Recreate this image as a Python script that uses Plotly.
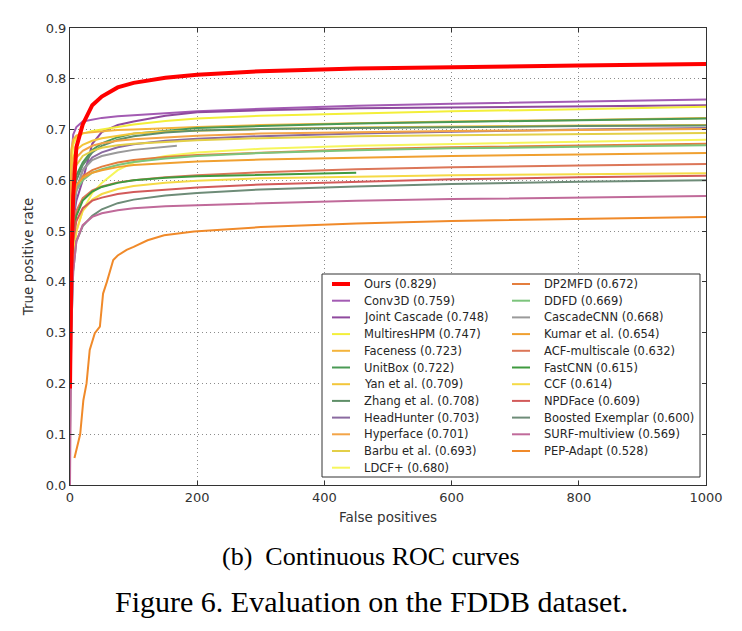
import plotly.graph_objects as go

# ---------------- data ----------------
FP = [0, 2, 5, 10, 20, 35, 50, 75, 100, 150, 200, 300, 450, 600, 800, 1000]

names = ["Ours", "Conv3D", "Joint Cascade", "MultiresHPM", "Faceness", "UnitBox",
         "Yan et al.", "Zhang et al.", "HeadHunter", "Hyperface", "Barbu et al.",
         "LDCF+", "DP2MFD", "DDFD", "CascadeCNN", "Kumar et al.", "ACF-multiscale",
         "FastCNN", "CCF", "NPDFace", "Boosted Exemplar", "SURF-multiview", "PEP-Adapt"]
scores = ["0.829", "0.759", "0.748", "0.747", "0.723", "0.722", "0.709", "0.708",
          "0.703", "0.701", "0.693", "0.680", "0.672", "0.669", "0.668", "0.654",
          "0.632", "0.615", "0.614", "0.609", "0.600", "0.569", "0.528"]
colors = ["#ff0000", "#a35bb3", "#8f4a9e", "#f3ef3a", "#f4b43c", "#4a9a55",
          "#f3c63a", "#5f8f68", "#8a6aa0", "#f3a447", "#e3cf48", "#f6f65c",
          "#e47e3e", "#7cc47c", "#9a9a9a", "#f0a030", "#dc7658", "#3f9a3f",
          "#f5da46", "#d25a5a", "#6e8c78", "#c06a9a", "#f08a2a"]

tpr_ours = [0.19, 0.42, 0.57, 0.665, 0.71, 0.748, 0.765, 0.783, 0.792, 0.802, 0.808, 0.815, 0.820, 0.823, 0.826, 0.829]
tpr_conv3d = [0.55, 0.64, 0.69, 0.705, 0.716, 0.720, 0.723, 0.726, 0.728, 0.731, 0.736, 0.741, 0.747, 0.751, 0.755, 0.759]
tpr_joint = [0.30, 0.45, 0.52, 0.56, 0.60, 0.672, 0.695, 0.709, 0.716, 0.727, 0.734, 0.738, 0.742, 0.744, 0.746, 0.748]
tpr_multires = [0.50, 0.62, 0.67, 0.685, 0.692, 0.697, 0.700, 0.705, 0.710, 0.717, 0.722, 0.727, 0.732, 0.736, 0.740, 0.745]
tpr_faceness = [0.60, 0.66, 0.68, 0.688, 0.693, 0.695, 0.697, 0.699, 0.700, 0.703, 0.705, 0.709, 0.713, 0.716, 0.719, 0.723]
tpr_unitbox = [0.35, 0.50, 0.57, 0.61, 0.635, 0.660, 0.673, 0.685, 0.692, 0.698, 0.703, 0.707, 0.712, 0.715, 0.718, 0.722]
tpr_yan = [0.55, 0.62, 0.645, 0.66, 0.670, 0.678, 0.683, 0.688, 0.692, 0.696, 0.698, 0.701, 0.704, 0.706, 0.708, 0.709]
tpr_zhang = [0.35, 0.50, 0.56, 0.60, 0.630, 0.655, 0.668, 0.680, 0.687, 0.694, 0.698, 0.701, 0.703, 0.705, 0.707, 0.708]
tpr_headhunter = [0.30, 0.45, 0.53, 0.58, 0.620, 0.645, 0.655, 0.665, 0.671, 0.678, 0.682, 0.687, 0.692, 0.696, 0.700, 0.703]
tpr_hyperface = [0.50, 0.60, 0.63, 0.645, 0.658, 0.668, 0.673, 0.678, 0.681, 0.685, 0.688, 0.692, 0.695, 0.697, 0.699, 0.701]
tpr_barbu = [0.40, 0.55, 0.60, 0.63, 0.648, 0.658, 0.664, 0.669, 0.672, 0.676, 0.679, 0.683, 0.687, 0.689, 0.691, 0.693]
tpr_ldcf = [0.20, 0.35, 0.45, 0.50, 0.540, 0.575, 0.595, 0.620, 0.635, 0.648, 0.655, 0.662, 0.668, 0.672, 0.676, 0.680]
tpr_dp2mfd = [0.40, 0.50, 0.56, 0.59, 0.608, 0.620, 0.627, 0.635, 0.640, 0.646, 0.650, 0.655, 0.661, 0.665, 0.669, 0.672]
tpr_ddfd = [0.40, 0.50, 0.55, 0.58, 0.600, 0.615, 0.622, 0.630, 0.636, 0.643, 0.648, 0.654, 0.659, 0.663, 0.666, 0.669]
tpr_kumar = [0.40, 0.50, 0.56, 0.59, 0.605, 0.615, 0.620, 0.626, 0.630, 0.634, 0.637, 0.641, 0.645, 0.648, 0.651, 0.654]
tpr_acf = [0.30, 0.42, 0.50, 0.54, 0.565, 0.580, 0.588, 0.596, 0.600, 0.606, 0.610, 0.616, 0.622, 0.626, 0.629, 0.632]
tpr_fastcnn = [0.25, 0.40, 0.48, 0.53, 0.560, 0.578, 0.587, 0.595, 0.600, 0.605, 0.608, 0.611, 0.615, None, None, None]
tpr_ccf = [0.20, 0.35, 0.44, 0.50, 0.540, 0.562, 0.573, 0.583, 0.589, 0.595, 0.599, 0.604, 0.607, 0.610, 0.612, 0.614]
tpr_npdface = [0.30, 0.42, 0.48, 0.52, 0.545, 0.560, 0.566, 0.573, 0.577, 0.582, 0.586, 0.592, 0.597, 0.602, 0.606, 0.609]
tpr_boosted = [0.10, 0.30, 0.42, 0.48, 0.510, 0.530, 0.543, 0.555, 0.562, 0.570, 0.575, 0.582, 0.588, 0.593, 0.597, 0.600]
tpr_surf = [0.00, 0.30, 0.42, 0.48, 0.512, 0.528, 0.535, 0.541, 0.545, 0.549, 0.551, 0.555, 0.560, 0.563, 0.566, 0.569]

cascade_fp = [0, 2, 5, 10, 20, 35, 50, 75, 100, 150, 168]
tpr_cascade = [0.30, 0.45, 0.53, 0.58, 0.620, 0.640, 0.648, 0.655, 0.660, 0.665, 0.668]

pep_fp = [7, 10, 16, 21, 26, 31, 39, 47, 52, 58, 63, 68, 75, 89, 100, 122, 148, 195, 300, 450, 600, 800, 1000]
tpr_pep = [0.053, 0.070, 0.100, 0.167, 0.200, 0.266, 0.299, 0.312, 0.377, 0.400, 0.423, 0.443, 0.452,
           0.463, 0.469, 0.482, 0.492, 0.499, 0.508, 0.515, 0.520, 0.524, 0.528]

x_ticks = [0, 200, 400, 600, 800, 1000]
y_ticks = [0.0, 0.1, 0.2, 0.3, 0.4, 0.5, 0.6, 0.7, 0.8, 0.9]

series_x = [FP] * 14 + [cascade_fp] + [FP] * 7 + [pep_fp]
series_y = [tpr_ours, tpr_conv3d, tpr_joint, tpr_multires, tpr_faceness, tpr_unitbox,
            tpr_yan, tpr_zhang, tpr_headhunter, tpr_hyperface, tpr_barbu, tpr_ldcf,
            tpr_dp2mfd, tpr_ddfd, tpr_cascade, tpr_kumar, tpr_acf, tpr_fastcnn,
            tpr_ccf, tpr_npdface, tpr_boosted, tpr_surf, tpr_pep]

# ---------------- figure ----------------
OFF = 8                      # default page margin of the html body
W, H = 742 - 2 * OFF, 631 - 2 * OFF
ML, MT = 70 - OFF, 28 - OFF
MR = W - (706 - OFF)
MB = H - (485 - OFF)
PW, PH = W - ML - MR, H - MT - MB


def px(xs):
    """screen x -> paper x"""
    return (xs - OFF - ML) / PW


def py(ys):
    """screen y -> paper y"""
    return (H - MB - (ys - OFF)) / PH


fig = go.Figure()
order = list(range(1, len(names))) + [0]
for i in order:
    fig.add_trace(go.Scatter(
        x=series_x[i], y=series_y[i], mode="lines",
        name=f"{names[i]} ({scores[i]})",
        line=dict(color=colors[i], width=4 if i == 0 else 2),
        showlegend=False, connectgaps=False, hoverinfo="name",
    ))

FONT = "DejaVu Sans"
axis_common = dict(
    showline=True, linecolor="#333333", linewidth=1, mirror="ticks",
    ticks="inside", ticklen=4, tickcolor="#333333",
    showgrid=True, gridcolor="#8c8c8c", griddash="1px,3px", gridwidth=1,
    zeroline=False, tickfont=dict(family=FONT, size=13, color="#333333"),
)
fig.update_xaxes(range=[0, 1000], tickvals=x_ticks, ticktext=[str(v) for v in x_ticks],
                 title=dict(text="False positives", standoff=8,
                            font=dict(family=FONT, size=13.5, color="#333333")),
                 **axis_common)
fig.update_yaxes(range=[0, 0.9], tickvals=y_ticks, ticktext=[f"{v:.1f}" for v in y_ticks],
                 title=dict(text="True positive rate", standoff=8,
                            font=dict(family=FONT, size=13.5, color="#333333")),
                 **axis_common)

# legend (two columns inside a framed box)
shapes = [dict(type="rect", xref="paper", yref="paper",
               x0=px(322), x1=px(700), y0=py(477), y1=py(274),
               line=dict(color="#333333", width=1), fillcolor="white", layer="above")]
annotations = []
row_h = 16.7
for i, nm in enumerate(names):
    col = 0 if i < 12 else 1
    row = i if i < 12 else i - 12
    yy = py(284 + row * row_h)
    lx0, lx1, tx = (332, 350, 362) if col == 0 else (512, 530, 542)
    shapes.append(dict(type="line", xref="paper", yref="paper",
                       x0=px(lx0), x1=px(lx1), y0=yy, y1=yy,
                       line=dict(color=colors[i], width=4 if i == 0 else 2), layer="above"))
    annotations.append(dict(xref="paper", yref="paper", x=px(tx), y=yy,
                            xanchor="left", yanchor="middle", showarrow=False,
                            text=f"{nm} ({scores[i]})",
                            font=dict(family=FONT, size=11.5, color="#262626")))

annotations.append(dict(xref="paper", yref="paper", x=px(371), y=py(556),
                        xanchor="center", yanchor="middle", showarrow=False,
                        text="(b)  Continuous ROC curves",
                        font=dict(family="Liberation Serif", size=26, color="#000000")))
annotations.append(dict(xref="paper", yref="paper", x=px(371), y=py(601),
                        xanchor="center", yanchor="middle", showarrow=False,
                        text="Figure 6. Evaluation on the FDDB dataset.",
                        font=dict(family="Liberation Serif", size=30, color="#000000")))

fig.update_layout(
    width=W, height=H, autosize=False,
    margin=dict(l=ML, r=MR, t=MT, b=MB, pad=0),
    paper_bgcolor="white", plot_bgcolor="white",
    shapes=shapes, annotations=annotations, showlegend=False,
)

fig.write_html("out.html")
